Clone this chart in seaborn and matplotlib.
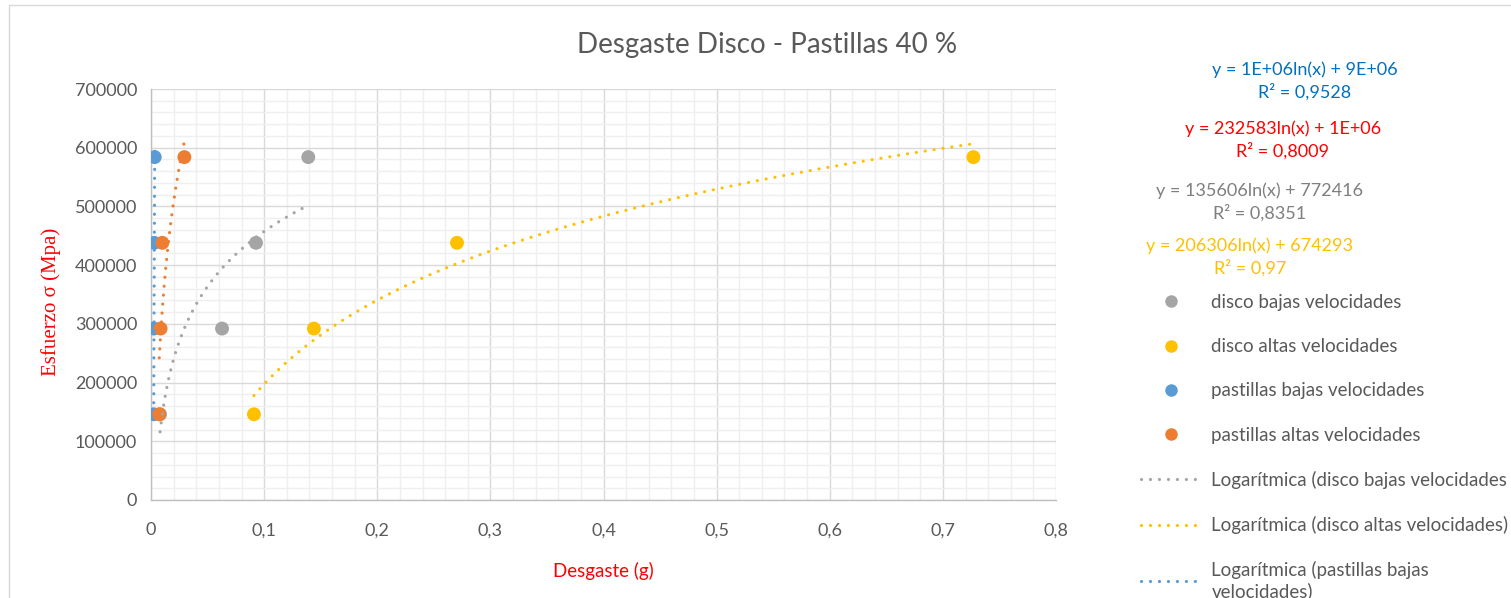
import numpy as np
import pandas as pd
import matplotlib.pyplot as plt
import seaborn as sns
from matplotlib.lines import Line2D
from matplotlib.patches import Rectangle
from matplotlib.ticker import MultipleLocator

# Esfuerzo (same 4 load levels for every series)
esfuerzo = [146000, 292000, 438000, 584000]

# Desgaste (g)
disco_bajas = [0.008, 0.0628, 0.0928, 0.139]
disco_altas = [0.091, 0.144, 0.2705, 0.727]
pastillas_bajas = [0.0024, 0.0026, 0.0029, 0.0033]
pastillas_altas = [0.0073, 0.0085, 0.0100, 0.0295]

series_names = ['disco bajas velocidades', 'disco altas velocidades',
                'pastillas bajas velocidades', 'pastillas altas velocidades']
series_colors = ['#A5A5A5', '#FFC000', '#5B9BD5', '#ED7D31']

x_ticks = [0, 0.1, 0.2, 0.3, 0.4, 0.5, 0.6, 0.7, 0.8]
x_tick_labels = ['0', '0,1', '0,2', '0,3', '0,4', '0,5', '0,6', '0,7', '0,8']
y_ticks = [0, 100000, 200000, 300000, 400000, 500000, 600000, 700000]

# trendline labels as printed in the chart
eq_texts = [
    ('y = 1E+06ln(x) + 9E+06\nR² = 0,9528', '#0070C0', 1305, 81),
    ('y = 232583ln(x) + 1E+06\nR² = 0,8009', '#FF0000', 1283, 140),
    ('y = 135606ln(x) + 772416\nR² = 0,8351', '#7F7F7F', 1260, 202),
    ('y = 206306ln(x) + 674293\nR² = 0,97', '#FFC000', 1250, 257),
]

sns.set_theme(style='white')
plt.rcParams['font.family'] = ['Lato', 'DejaVu Sans']

W, H = 1511, 598
fig = plt.figure(figsize=(W / 100, H / 100), dpi=100)
ax = fig.add_axes([151 / W, 1 - 500 / H, 905 / W, 411 / H])

frames = []
for name, xs in zip(series_names, [disco_bajas, disco_altas, pastillas_bajas, pastillas_altas]):
    frames.append(pd.DataFrame({'desgaste': xs, 'esfuerzo': esfuerzo, 'serie': name}))
df = pd.concat(frames, ignore_index=True)

sns.scatterplot(data=df, x='desgaste', y='esfuerzo', hue='serie', hue_order=series_names,
                palette=series_colors, s=100, edgecolor='none', legend=False, ax=ax, zorder=3)

DOT = (0, (0.01, 2.8))

# logarithmic trendlines
for name, color in zip(series_names, series_colors):
    sub = df[df['serie'] == name]
    a, b = np.polyfit(np.log(sub['desgaste']), sub['esfuerzo'], 1)
    xs = np.geomspace(sub['desgaste'].min(), sub['desgaste'].max(), 200)
    trend = pd.DataFrame({'x': xs, 'y': a * np.log(xs) + b})
    sns.lineplot(data=trend, x='x', y='y', color=color, lw=2.3, ls=DOT,
                 dash_capstyle='round', sort=False, estimator=None, ax=ax, zorder=4)

ax.set_xlim(0, 0.8)
ax.set_ylim(0, 700000)
ax.set_xticks(x_ticks)
ax.set_xticklabels(x_tick_labels)
ax.set_yticks(y_ticks)
ax.set_yticklabels([str(v) for v in y_ticks])
ax.xaxis.set_minor_locator(MultipleLocator(0.02))
ax.yaxis.set_minor_locator(MultipleLocator(20000))
ax.grid(which='major', color='#D9D9D9', lw=1)
ax.grid(which='minor', color='#EFEFEF', lw=1)
ax.set_axisbelow(True)
for s in ['top', 'right']:
    ax.spines[s].set_visible(False)
for s in ['left', 'bottom']:
    ax.spines[s].set_color('#BFBFBF')
    ax.spines[s].set_linewidth(1)
ax.tick_params(which='major', length=5, width=1, color='#BFBFBF',
               labelsize=13, labelcolor='#595959')
ax.tick_params(axis='x', pad=11)
ax.tick_params(axis='y', pad=5)
ax.tick_params(which='minor', length=0)

ax.set_xlabel('Desgaste (g)', color='#FF0000', fontsize=13.5,
              family=['Lato', 'DejaVu Sans'])
ax.xaxis.set_label_coords(0.5, -62 / 411)
ax.set_ylabel('Esfuerzo σ (Mpa)', color='#FF0000', fontsize=15,
              family=['Liberation Serif', 'DejaVu Serif'])
ax.yaxis.set_label_coords(-90 / 905, (500 - 302) / 411)

fig.text(767 / W, 1 - 45 / H, 'Desgaste Disco - Pastillas 40 %', ha='center', va='center',
         fontsize=20, color='#595959')

for txt, col, cx, cy in eq_texts:
    fig.text(cx / W, 1 - cy / H, txt, ha='center', va='center', color=col,
             fontsize=13, linespacing=1.35)

# legend
handles = [Line2D([], [], ls='none', marker='o', ms=9, color=c, mec='none') for c in series_colors]
labels = list(series_names)
for c in series_colors[:3]:
    handles.append(Line2D([], [], color=c, lw=2.3, ls=DOT, dash_capstyle='round'))
labels += ['Logarítmica (disco bajas velocidades',
           'Logarítmica (disco altas velocidades)',
           'Logarítmica (pastillas bajas\nvelocidades)']
leg = fig.legend(handles, labels, loc='upper left', bbox_to_anchor=(1141 / W, 1 - 294 / H),
                 bbox_transform=fig.transFigure, frameon=False, fontsize=13.5,
                 labelcolor='#595959', handlelength=3.2, handletextpad=0.55,
                 labelspacing=1.45, borderaxespad=0, borderpad=0)

# chart area border
fig.patches.append(Rectangle((9 / W, -0.1), 1.2, (H - 5) / H + 0.1, transform=fig.transFigure,
                             fill=False, edgecolor='#D9D9D9', lw=1))

fig.savefig('out.png', dpi=100)
